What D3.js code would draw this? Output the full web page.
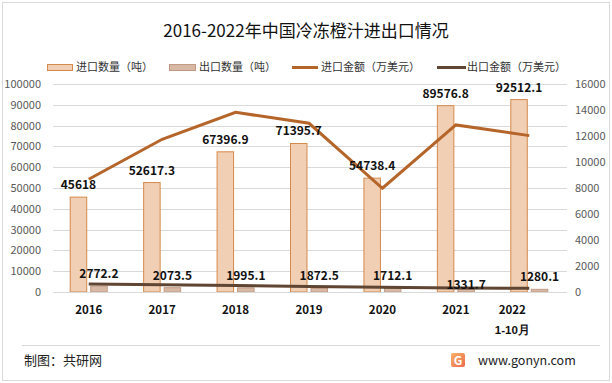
<!DOCTYPE html>
<html>
<head>
<meta charset="utf-8">
<script src="https://cdn.jsdelivr.net/npm/d3@7"></script>
<style>
  body { margin: 0; background: #fff; }
  svg { display: block; font-family: "Noto Sans CJK SC", "Noto Sans", sans-serif; }
</style>
</head>
<body>
<div id="chart"></div>
<script>
// Chart data
const years = ['2016', '2017', '2018', '2019', '2020', '2021', '2022'];
const importQty = [45618, 52617.3, 67396.9, 71395.7, 54738.4, 89576.8, 92512.1]; // 吨
const exportQty = [2772.2, 2073.5, 1995.1, 1872.5, 1712.1, 1331.7, 1280.1]; // 吨
const importAmt = [8670, 11750, 13820, 12980, 7980, 12850, 12030]; // 万美元
const exportAmt = [620, 560, 500, 420, 370, 300, 290]; // 万美元
const leftTicks = [0, 10000, 20000, 30000, 40000, 50000, 60000, 70000, 80000, 90000, 100000];
const rightTicks = [0, 2000, 4000, 6000, 8000, 10000, 12000, 14000, 16000];

const W = 612, H = 383;
const plot = { left: 53, right: 567, top: 84, bottom: 292 };

const svg = d3.select('#chart').append('svg')
    .attr('width', W)
    .attr('height', H);

// outer frame
svg.append('rect')
    .attr('x', 2.5).attr('y', 2.5)
    .attr('width', W - 5).attr('height', H - 5)
    .attr('fill', '#fff')
    .attr('stroke', '#d9d9d9');

// title
svg.append('text')
    .attr('x', W / 2).attr('y', 37)
    .attr('text-anchor', 'middle')
    .attr('font-size', 17)
    .attr('fill', '#111')
    .text('2016-2022年中国冷冻橙汁进出口情况');

// scales
const x = d3.scaleBand()
    .domain(years)
    .range([plot.left, plot.right]);

const yLeft = d3.scaleLinear()
    .domain([0, 100000])
    .range([plot.bottom, plot.top]);

const yRight = d3.scaleLinear()
    .domain([0, 16000])
    .range([plot.bottom, plot.top]);

// gridlines
svg.append('g')
    .selectAll('line')
    .data(leftTicks)
    .join('line')
    .attr('x1', plot.left).attr('x2', plot.right)
    .attr('y1', d => Math.round(yLeft(d)) + 0.5)
    .attr('y2', d => Math.round(yLeft(d)) + 0.5)
    .attr('stroke', '#d9d9d9')
    .attr('stroke-width', 1);

// left axis
const leftAxis = svg.append('g')
    .attr('transform', `translate(${plot.left - 12}, 0)`)
    .call(d3.axisLeft(yLeft).tickValues(leftTicks).tickSize(0).tickPadding(0).tickFormat(d3.format('d')));
leftAxis.select('.domain').remove();
leftAxis.selectAll('text')
    .attr('font-size', 11)
    .attr('fill', '#595959')
    .attr('font-family', '"Noto Sans CJK SC", sans-serif');

// right axis
const rightAxis = svg.append('g')
    .attr('transform', `translate(${plot.right + 8}, 0)`)
    .call(d3.axisRight(yRight).tickValues(rightTicks).tickSize(0).tickPadding(0).tickFormat(d3.format('d')));
rightAxis.select('.domain').remove();
rightAxis.selectAll('text')
    .attr('font-size', 11)
    .attr('fill', '#595959')
    .attr('font-family', '"Noto Sans CJK SC", sans-serif');

// bars
const barW = 16.5, gap = 4;
const center = d => x(d) + x.bandwidth() / 2 - 1;

svg.append('g')
    .selectAll('rect')
    .data(years)
    .join('rect')
    .attr('x', d => center(d) - gap / 2 - barW)
    .attr('y', (d, i) => yLeft(importQty[i]))
    .attr('width', barW)
    .attr('height', (d, i) => yLeft(0) - yLeft(importQty[i]))
    .attr('fill', '#f1cfb5')
    .attr('stroke', '#d5894a')
    .attr('stroke-width', 1);

svg.append('g')
    .selectAll('rect')
    .data(years)
    .join('rect')
    .attr('x', d => center(d) + gap / 2)
    .attr('y', (d, i) => yLeft(exportQty[i]))
    .attr('width', barW)
    .attr('height', (d, i) => yLeft(0) - yLeft(exportQty[i]))
    .attr('fill', '#d8b9a5')
    .attr('stroke', '#c19a83')
    .attr('stroke-width', 1);

// lines
const lineImport = d3.line()
    .x((d, i) => center(years[i]))
    .y(d => yRight(d));

svg.append('path')
    .datum(importAmt)
    .attr('fill', 'none')
    .attr('stroke', '#b5652a')
    .attr('stroke-width', 3)
    .attr('d', lineImport);

svg.append('path')
    .datum(exportAmt)
    .attr('fill', 'none')
    .attr('stroke', '#5f4532')
    .attr('stroke-width', 3)
    .attr('d', lineImport);

// data labels
svg.append('g')
    .selectAll('text')
    .data(years)
    .join('text')
    .attr('x', d => center(d) - gap / 2 - barW / 2)
    .attr('y', (d, i) => yLeft(importQty[i]) - 8)
    .attr('text-anchor', 'middle')
    .attr('font-size', 12)
    .attr('font-weight', 'bold')
    .attr('fill', '#111')
    .text((d, i) => importQty[i]);

svg.append('g')
    .selectAll('text')
    .data(years)
    .join('text')
    .attr('x', d => center(d) + gap / 2 + barW / 2)
    .attr('y', (d, i) => yLeft(exportQty[i]) - 8 + (i === 5 ? 8 : 0))
    .attr('text-anchor', 'middle')
    .attr('font-size', 12)
    .attr('font-weight', 'bold')
    .attr('fill', '#111')
    .text((d, i) => exportQty[i]);

// x axis
svg.append('line')
    .attr('x1', plot.left).attr('x2', plot.right)
    .attr('y1', plot.bottom + 0.5).attr('y2', plot.bottom + 0.5)
    .attr('stroke', '#d9d9d9');

const xAxis = svg.append('g')
    .attr('transform', `translate(-1, ${plot.bottom + 14})`)
    .call(d3.axisBottom(x).tickSize(0).tickPadding(0));
xAxis.select('.domain').remove();
xAxis.selectAll('text')
    .attr('font-size', 11.5)
    .attr('font-weight', 'bold')
    .attr('fill', '#111')
    .attr('font-family', '"Noto Sans CJK SC", sans-serif')
    .attr('dx', d => d === '2022' ? -17 : 0);
xAxis.selectAll('.tick')
    .filter(d => d === '2022')
    .append('text')
    .attr('y', 20)
    .attr('dy', '0.71em')
    .attr('dx', -17)
    .attr('text-anchor', 'middle')
    .attr('font-size', 11.5)
    .attr('font-weight', 'bold')
    .attr('fill', '#111')
    .text('1-10月');

// legend
const legend = svg.append('g').attr('font-size', 11).attr('fill', '#333');
legend.append('rect').attr('x', 47.5).attr('y', 64.5).attr('width', 25).attr('height', 6)
    .attr('fill', '#f1cfb5').attr('stroke', '#d5894a');
legend.append('text').attr('x', 76).attr('y', 71).text('进口数量（吨）');
legend.append('rect').attr('x', 169.5).attr('y', 64.5).attr('width', 26).attr('height', 6)
    .attr('fill', '#d8b9a5').attr('stroke', '#c19a83');
legend.append('text').attr('x', 199).attr('y', 71).text('出口数量（吨）');
legend.append('line').attr('x1', 292).attr('x2', 318).attr('y1', 67.5).attr('y2', 67.5)
    .attr('stroke', '#b5652a').attr('stroke-width', 3);
legend.append('text').attr('x', 321).attr('y', 71).text('进口金额（万美元）');
legend.append('line').attr('x1', 437).attr('x2', 466).attr('y1', 67.5).attr('y2', 67.5)
    .attr('stroke', '#5f4532').attr('stroke-width', 3);
legend.append('text').attr('x', 467).attr('y', 71).text('出口金额（万美元）');

// footer
svg.append('line')
    .attr('x1', 22).attr('x2', 600)
    .attr('y1', 345.5).attr('y2', 345.5)
    .attr('stroke', '#d9d9d9');
svg.append('text')
    .attr('x', 24).attr('y', 365)
    .attr('font-size', 13)
    .attr('fill', '#222')
    .text('制图：共研网');

const defs = svg.append('defs');
const grad = defs.append('linearGradient').attr('id', 'logoGrad')
    .attr('x1', 0).attr('y1', 0).attr('x2', 1).attr('y2', 1);
grad.append('stop').attr('offset', '0%').attr('stop-color', '#f7b267');
grad.append('stop').attr('offset', '100%').attr('stop-color', '#ee6a4f');
svg.append('rect')
    .attr('x', 451).attr('y', 353).attr('width', 14).attr('height', 14)
    .attr('rx', 2)
    .attr('fill', 'url(#logoGrad)');
svg.append('text')
    .attr('x', 458).attr('y', 364.5)
    .attr('text-anchor', 'middle')
    .attr('font-size', 12)
    .attr('font-weight', 'bold')
    .attr('fill', '#fff')
    .text('G');
svg.append('text')
    .attr('x', 478).attr('y', 365)
    .attr('font-size', 12.5)
    .attr('fill', '#222')
    .text('www.gonyn.com');
</script>
</body>
</html>
